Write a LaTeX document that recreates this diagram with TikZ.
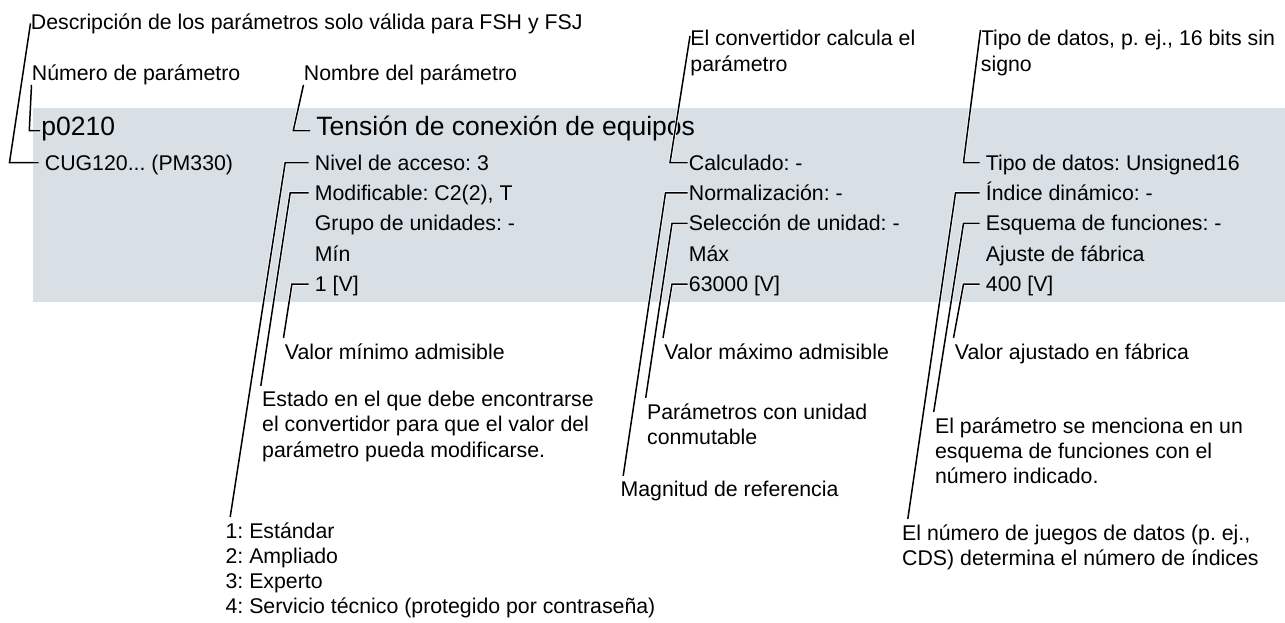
\documentclass[tikz,border=0pt]{standalone}
\usepackage{fontspec}
\setmainfont{Liberation Sans}
\frenchspacing
\definecolor{bandgrau}{HTML}{D9E0E5}

\begin{document}
\begin{tikzpicture}[x=0.5pt, y=-0.5pt,
    every node/.style={font=\fontsize{10.65}{12.6}\selectfont},
    fld/.style={anchor=base west, inner xsep=3pt, inner ysep=0pt, text height=7.5pt, text depth=0pt},
    fldc/.style={fld, inner xsep=0.5pt},
    ttl/.style={fld, font=\fontsize{13.25}{15}\selectfont, text height=4.5pt},
    ann/.style={anchor=base west, inner sep=0pt, align=left},
    annb/.style={ann, inner xsep=0.5pt, inner ysep=2.5pt},
    lead/.style={line width=0.75pt, preaction={draw=white, line width=1.5pt}}]
    \useasboundingbox (0,0) rectangle (1285,622);
    \fill[bandgrau] (33,108) rectangle (1285,302);

    % Kopfzeile
    \node[ttl, inner xsep=0.5pt] (pnum) at (40,135) {p0210};
    \node[ttl] (pname) at (310,135) {Tensión de conexión de equipos};
    \node[fld] (cug) at (38.5,170) {CUG120... (PM330)};

    % Spalten im Band
    \foreach \nm/\row/\txt in {%
      nivel/0/{Nivel de acceso: 3},
      modif/1/{Modificable: C2(2), T},
      grp/2/{Grupo de unidades: -},
      mn/3/{Mín},
      vlo/4/{1 [V]}}{%
      \node[fld] (\nm) at (308.5,{170+30.4*\row}) {\txt};
    }
    \foreach \nm/\row/\txt in {%
      calc/0/{Calculado: -},
      norm/1/{Normalización: -},
      sel/2/{Selección de unidad: -},
      mx/3/{Máx},
      vhi/4/{63000 [V]}}{%
      \node[fldc] (\nm) at (687.5,{170+30.4*\row}) {\txt};
    }
    \foreach \nm/\row/\txt in {%
      tipo/0/{Tipo de datos: Unsigned16},
      idx/1/{Índice dinámico: -},
      esq/2/{Esquema de funciones: -},
      fab/3/{Ajuste de fábrica},
      vdef/4/{400 [V]}}{%
      \node[fld] (\nm) at (979.5,{170+30.4*\row}) {\txt};
    }

    % Erklaerungen oben (mehrzeilig: Basislinie der letzten Zeile)
    \node[ann] (dsc) at (30.5,29) {Descripción de los parámetros solo válida para FSH y FSJ};
    \node[ann] (num) at (31.5,80) {Número de parámetro};
    \node[ann] (nom) at (303.5,80) {Nombre del parámetro};
    \node[ann] (conv) at (690,71) {El convertidor calcula el\\parámetro};
    \node[ann] (typ) at (980.5,71) {Tipo de datos, p. ej., 16 bits sin\\signo};

    % Erklaerungen unten
    \node[annb] (amin) at (283.5,359) {Valor mínimo admisible};
    \node[annb] (amax) at (663,359) {Valor máximo admisible};
    \node[annb] (adef) at (953.5,359) {Valor ajustado en fábrica};
    \node[annb] (estado) at (260.8,457.1) {Estado en el que debe encontrarse\\el convertidor para que el valor del\\parámetro pueda modificarse.};
    \node[annb] (unit) at (645.7,444.2) {Parámetros con unidad\\conmutable};
    \node[annb] (fplan) at (933.7,483.4) {El parámetro se menciona en un\\esquema de funciones con el\\número indicado.};
    \node[annb] (magn) at (619.2,496.7) {Magnitud de referencia};
    \node[annb] (lvl) at (224.2,613.6) {1: Estándar\\2: Ampliado\\3: Experto\\4: Servicio técnico (protegido por contraseña)};
    \node[annb] (ndat) at (900.8,565.2) {El número de juegos de datos (p. ej.,\\CDS) determina el número de índices};

    % Hinweislinien
    \foreach \fd/\len/\tg in {%
      cug/29/dsc.west,
      pnum/10.7/num.south west,
      pname/16.7/nom.south west,
      modif/18.3/estado.north west,
      vlo/16.6/amin.north west,
      sel/15.5/unit.north west,
      vhi/15.5/amax.north west,
      tipo/16/typ.north west,
      esq/16/fplan.north west,
      vdef/16/adef.north west}{%
      \draw[lead] (\fd.west) -- ++(-\len,0) -- (\tg);
    }
    \draw[lead] (nivel.west) -- ++(-23.3,0) -- ([xshift=3pt]lvl.north west);
    \draw[lead] (calc.west) -- ++(-17.5,0) -- ([yshift=-3pt]conv.north west);
    \draw[lead] (norm.west) -- ++(-22,0) -- ([xshift=2pt]magn.north west);
    \draw[lead] (idx.west) -- ++(-24,0) -- ([xshift=3.5pt]ndat.north west);
\end{tikzpicture}
\end{document}
